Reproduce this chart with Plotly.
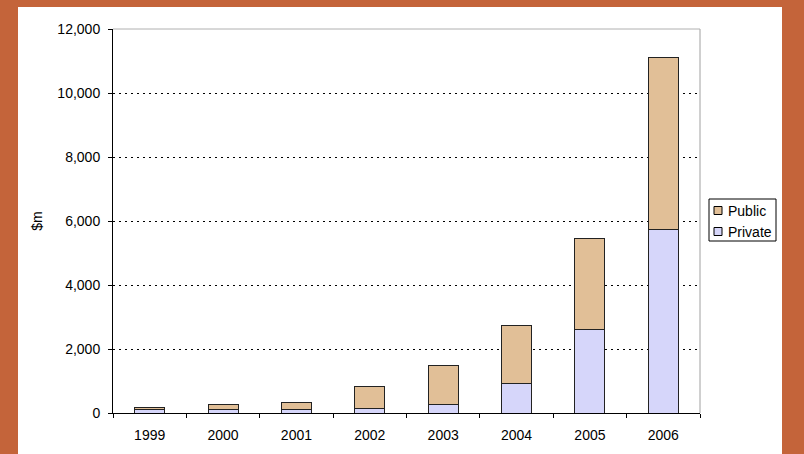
import plotly.graph_objects as go

years = ["1999", "2000", "2001", "2002", "2003", "2004", "2005", "2006"]
private = [95, 105, 110, 150, 260, 935, 2615, 5740]
public = [65, 165, 225, 670, 1230, 1795, 2845, 5370]
y_ticks = [0, 2000, 4000, 6000, 8000, 10000, 12000]

FONT = "Liberation Sans, Arial, sans-serif"
C_PRIV = "#D6D6FA"
C_PUB = "#E1BF97"

fig = go.Figure()
fig.add_trace(go.Bar(x=years, y=private, name="Private",
                     marker=dict(color=C_PRIV, line=dict(color="#222222", width=1))))
fig.add_trace(go.Bar(x=years, y=public, name="Public",
                     marker=dict(color=C_PUB, line=dict(color="#222222", width=1))))

L, R, T, B = 113, 104, 29, 41
W, H = 804, 454
pw, ph = W - L - R, H - T - B

def px(x):
    return (x - L) / pw

def py(y):
    return (H - B - y) / ph

shapes = [
    dict(type="rect", xref="paper", yref="paper",
         x0=px(18), x1=px(782), y0=py(454), y1=py(7),
         fillcolor="white", line=dict(width=0), layer="below"),
    dict(type="line", xref="paper", yref="paper",
         x0=1, x1=1, y0=0, y1=1, line=dict(color="#A0A0A0", width=1)),
    dict(type="line", xref="paper", yref="paper",
         x0=0, x1=1, y0=1, y1=1, line=dict(color="#B0B0B0", width=1)),
    # legend box
    dict(type="rect", xref="paper", yref="paper",
         x0=px(709), x1=px(776), y0=py(241), y1=py(199),
         fillcolor="white", line=dict(color="black", width=1)),
]
annotations = []
legend_items = [("Public", C_PUB, 210.5), ("Private", C_PRIV, 231.5)]
for name, col, yc in legend_items:
    shapes.append(dict(type="rect", xref="paper", yref="paper",
                       x0=px(714), x1=px(722), y0=py(yc + 4), y1=py(yc - 4),
                       fillcolor=col, line=dict(color="black", width=1)))
    annotations.append(dict(text=name, xref="paper", yref="paper",
                            x=px(726), y=py(yc), xanchor="left", yanchor="middle",
                            showarrow=False, font=dict(size=14, color="black")))

fig.update_layout(
    width=W, height=H,
    margin=dict(l=L, r=R, t=T, b=B, pad=0),
    paper_bgcolor="#C4643A",
    plot_bgcolor="white",
    barmode="stack",
    bargap=0.59,
    font=dict(family=FONT, size=14, color="black"),
    showlegend=False,
    xaxis=dict(
        showline=True, linecolor="black", linewidth=1,
        ticks="outside", tickson="boundaries", ticklen=4, tickcolor="black",
        showgrid=False, fixedrange=True, ticklabelstandoff=9,
    ),
    yaxis=dict(
        range=[0, 12000], tickvals=y_ticks, tickformat=",",
        showline=True, linecolor="black", linewidth=1,
        ticks="outside", ticklen=4, tickcolor="black",
        showgrid=True, gridcolor="black", griddash="2px,4px", gridwidth=1,
        zeroline=False,
        title=dict(text="$m", standoff=11, font=dict(size=14)),
        ticklabelstandoff=5,
    ),
    shapes=shapes,
    annotations=annotations,
)

fig.write_html("out.html", config={"displayModeBar": False},
               post_script="document.body.style.margin='0px';document.body.style.padding='0px';")
